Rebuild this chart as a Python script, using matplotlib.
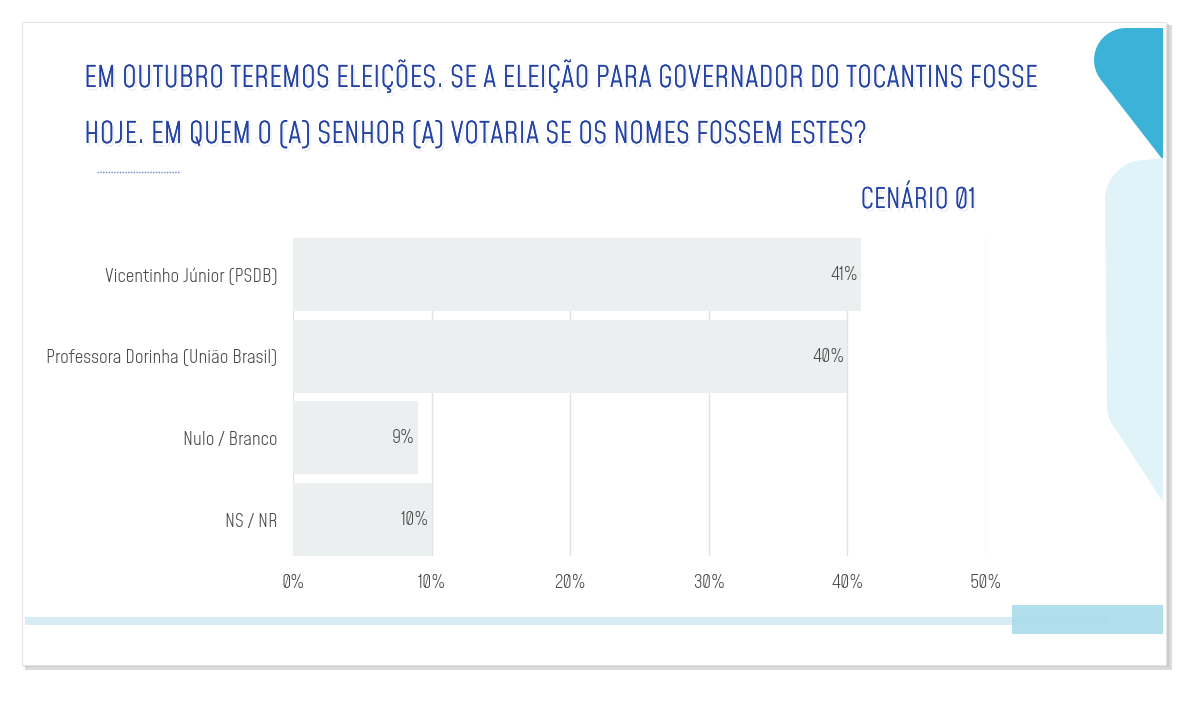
import matplotlib
matplotlib.use("Agg")
import numpy as np
import matplotlib.pyplot as plt
import matplotlib.patheffects as pe
from matplotlib.patches import Rectangle, Polygon

# ---- data ----
categories = ["Vicentinho Júnior (PSDB)", "Professora Dorinha (União Brasil)", "Nulo / Branco", "NS / NR"]
values = [41, 40, 9, 10]
value_labels = ["41%", "40%", "9%", "10%"]
xticks = [0, 10, 20, 30, 40, 50]
xtick_labels = ["0%", "10%", "20%", "30%", "40%", "50%"]
title_lines = ["EM OUTUBRO TEREMOS ELEIÇÕES. SE A ELEIÇÃO PARA GOVERNADOR DO TOCANTINS FOSSE",
               "HOJE. EM QUEM O (A) SENHOR (A) VOTARIA SE OS NOMES FOSSEM ESTES?"]
subtitle = "CENÁRIO 01"

FONT = ["Mohave", "DejaVu Sans"]
W, H = 1200, 701
fig = plt.figure(figsize=(W / 100, H / 100), dpi=100)
fig.patch.set_facecolor("white")

# background / decoration layer in pixel coordinates
bg = fig.add_axes([0, 0, 1, 1], zorder=0)
bg.set_xlim(0, W)
bg.set_ylim(H, 0)
bg.axis("off")

# card shadow + card
bg.add_patch(Rectangle((25, 25), 1147, 645, facecolor="#9a9a9a", edgecolor="none", alpha=0.35))
bg.add_patch(Rectangle((23, 24), 1146, 643, facecolor="#bdbdbd", edgecolor="none", alpha=0.5))
bg.add_patch(Rectangle((22, 22), 1144, 643, facecolor="white", edgecolor="#e6e6e6", lw=0.8))


def arc(cx, cy, r, a0, a1, n=16):
    t = np.linspace(np.radians(a0), np.radians(a1), n)
    return [(cx + r * np.cos(a), cy + r * np.sin(a)) for a in t]


# dark blue top-right shape (rounded left corner, diagonal bottom)
verts = [(1163, 28)] + arc(1126, 60, 32, 270, 143) + [(1163, 160), (1163, 28)]
bg.add_patch(Polygon(verts, closed=True, facecolor="#3db2d8", edgecolor="none"))
# light blue right shape
verts2 = ([(1163, 158)] + arc(1145, 200, 40, 270, 180) + arc(1147, 405, 40, 180, 137)
          + [(1163, 502), (1163, 158)])
bg.add_patch(Polygon(verts2, closed=True, facecolor="#e0f3f9", edgecolor="none"))

# bottom stripes
bg.add_patch(Rectangle((25, 617), 1083, 8, facecolor="#d6edf6", edgecolor="none"))
bg.add_patch(Rectangle((1012, 605), 151, 29, facecolor="#a9dcea", edgecolor="none", alpha=0.9))

# small dotted line under title
bg.plot([97, 180], [172, 172], color="#6f7fc4", lw=1.0, ls=(0, (1, 1)))

# title
shadow = [pe.withSimplePatchShadow(offset=(1.5, -2.5), shadow_rgbFace="#aab2c4", alpha=0.2),
          pe.Normal()]
for i, line in enumerate(title_lines):
    bg.text(84, 87 + i * 56, line, fontsize=21.2, color="#2443a3", family=FONT, weight="light",
            ha="left", va="baseline", path_effects=shadow)
bg.text(976, 208, subtitle, fontsize=20, color="#2443a3", family=FONT, weight="light",
        ha="right", va="baseline", path_effects=shadow)

# chart axes
ax = fig.add_axes([293 / W, 1 - 556 / H, 693 / W, 318 / H], zorder=2)
ax.patch.set_alpha(0)
y = list(range(len(categories)))
ax.barh(y, values, height=0.89, color="#eceff0", edgecolor="none", zorder=2)
ax.set_xlim(0, 50)
ax.set_ylim(3.445, -0.445)
ax.set_xticks(xticks)
ax.set_xticklabels(xtick_labels)
ax.set_yticks(y)
ax.set_yticklabels(categories)
for lbl in ax.get_xticklabels() + ax.get_yticklabels():
    lbl.set_family(FONT)
    lbl.set_fontsize(13.5)
    lbl.set_weight("light")
    lbl.set_color("#4a4a4a")
ax.tick_params(axis="both", length=0)
ax.tick_params(axis="x", pad=13)
ax.tick_params(axis="y", pad=11)
ax.grid(axis="x", color="#e2e2e2", lw=1.0, zorder=1)
ax.set_axisbelow(True)
for s in ax.spines.values():
    s.set_visible(False)

for yi, v, t in zip(y, values, value_labels):
    ax.annotate(t, xy=(v, yi), xytext=(-3, 0), textcoords="offset pixels",
                ha="right", va="center", fontsize=13.5, weight="light", color="#4a4a4a",
                family=FONT, zorder=3)

fig.savefig("out.png", dpi=100, facecolor="white")
